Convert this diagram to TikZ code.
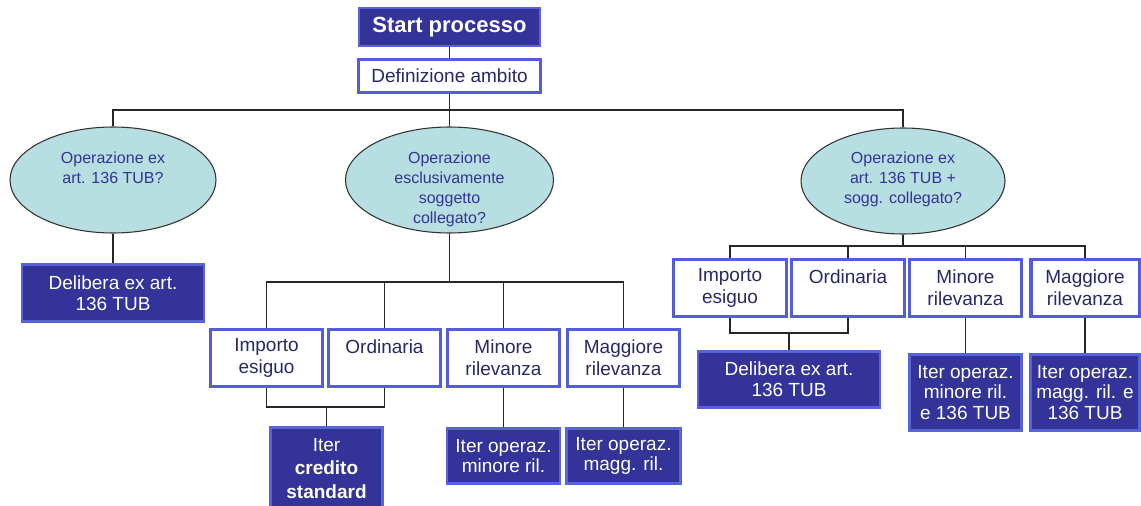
\documentclass[tikz,border=0pt]{standalone}
\usepackage{fontspec}
\setmainfont{Liberation Sans}
\usetikzlibrary{shapes.geometric}
\definecolor{navy}{RGB}{51,51,153}
\definecolor{navyedge}{RGB}{88,98,218}
\definecolor{boxedge}{RGB}{82,92,220}
\definecolor{ellfill}{RGB}{183,222,224}
\definecolor{boxtext}{RGB}{40,40,105}
\newcommand\boxfont{\fontsize{14.25}{16.5}\selectfont}
\newcommand\navyfont{\fontsize{14.25}{15.6}\selectfont}
\newcommand\qfont{\fontsize{12}{15}\selectfont}
\newcommand\startfont{\fontsize{16.5}{19}\selectfont\bfseries}
\pgfdeclarelayer{background}
\pgfsetlayers{background,main}
\tikzset{
  sz/.style 2 args={minimum width=#1*0.75pt, minimum height=#2*0.75pt},
  navybox/.style={rectangle, fill=navy, draw=navyedge, line width=2pt, text=white, align=center, inner sep=0pt, font=\navyfont},
  whitebox/.style={rectangle, fill=white, draw=boxedge, line width=2.6pt, text=boxtext, align=center, inner sep=0pt, font=\boxfont},
  question/.style={ellipse, fill=ellfill, draw=black!80, line width=0.8pt, inner sep=0pt},
  qtext/.style={text=navy, align=center, anchor=north, font=\qfont, inner sep=0pt},
  link/.style={draw=black!85, line width=1pt},
}
\begin{document}
\begin{tikzpicture}[x=0.75pt,y=-0.75pt]
\useasboundingbox (0,0) rectangle (1141,506);
% top
\node[navybox, sz={181}{38}, font=\startfont] (start) at (449.5,27) {Start processo};
\node[whitebox, sz={181.5}{32.5}] (def) at (449.5,76) {Definizione ambito};
% questions
\node[question, sz={206}{106}] (e1) at (113,180) {};
\node[question, sz={208}{106}] (e2) at (449.5,180) {};
\node[question, sz={204}{106}] (e3) at (903,181) {};
\node[qtext] (q1) at (113,152) {Operazione ex\\art. 136 TUB?};
\node[qtext] (q2) at (449.5,152) {Operazione\\esclusivamente\\soggetto\\collegato?};
\node[qtext] (q3) at (903,152) {Operazione ex\\art. 136 TUB +\\sogg. collegato?};
% left
\node[navybox, sz={182.3}{57.3}] (del1) at (113,293) {Delibera ex art.\\136 TUB};
% middle group
\node[whitebox, sz={111.5}{56.5}] (imp1) at (266.5,358) {Importo\\esiguo};
\node[whitebox, sz={111.5}{56.5}] (ord1) at (384.5,358) {Ordinaria\\\mbox{}};
\node[whitebox, sz={111.5}{56.5}] (min1) at (503.5,358) {Minore\\rilevanza};
\node[whitebox, sz={111.5}{56.5}] (mag1) at (623.5,358) {Maggiore\\rilevanza};
\node[navybox, sz={112.3}{82.3}, font=\fontsize{14.25}{17.6}\selectfont] (cred) at (326.5,468.5) {Iter\\\textbf{credito}\\\textbf{standard}};
\node[navybox, sz={113.3}{55.3}] (itmin1) at (503.5,456) {Iter operaz.\\minore ril.};
\node[navybox, sz={114.3}{55.3}] (itmag1) at (623.5,456) {Iter operaz.\\magg. ril.};
% right group
\node[whitebox, sz={112.5}{56.5}] (imp2) at (730,288) {Importo\\esiguo};
\node[whitebox, sz={112.5}{56.5}] (ord2) at (848,288) {Ordinaria\\\mbox{}};
\node[whitebox, sz={111.5}{56.5}] (min2) at (965.5,288) {Minore\\rilevanza};
\node[whitebox, sz={108.5}{56.5}] (mag2) at (1085,288) {Maggiore\\rilevanza};
\node[navybox, sz={182.3}{56.3}] (del2) at (789,379.5) {Delibera ex art.\\136 TUB};
\node[navybox, sz={112.3}{76.3}] (itmin2) at (965.5,392.5) {Iter operaz.\\minore ril.\\e 136 TUB};
\node[navybox, sz={109.3}{76.3}] (itmag2) at (1085,392.5) {Iter operaz.\\magg. ril. e\\136 TUB};
% connectors
\begin{pgfonlayer}{background}
\coordinate (top) at (449.5,110);
\coordinate (mid) at (449.5,282);
\coordinate (jm) at (326.5,407);
\coordinate (rt) at (903,246);
\coordinate (jr) at (789,333);
\draw[link] (start) -- (def);
\draw[link] (def) -- (e2);
\draw[link] (e1.north) |- (top) -| (e3.north);
\draw[link] (e1.south) -- (del1.north);
\draw[link] (e2.south) -- (mid);
\draw[link] (imp1.north) |- (mid) -| (mag1.north);
\draw[link] (ord1.north) -- (ord1.north |- mid);
\draw[link] (min1.north) -- (min1.north |- mid);
\draw[link] (imp1.south) |- (jm) -| (ord1.south);
\draw[link] (jm) -- (cred.north);
\draw[link] (min1.south) -- (itmin1.north);
\draw[link] (mag1.south) -- (itmag1.north);
\draw[link] (e3.south) -- (rt);
\draw[link] (imp2.north) |- (rt) -| (mag2.north);
\draw[link] (ord2.north) -- (ord2.north |- rt);
\draw[link] (min2.north) -- (min2.north |- rt);
\draw[link] (imp2.south) |- (jr) -| (ord2.south);
\draw[link] (jr) -- (del2.north);
\draw[link] (min2.south) -- (itmin2.north);
\draw[link] (mag2.south) -- (itmag2.north);
\end{pgfonlayer}
\end{tikzpicture}
\end{document}
